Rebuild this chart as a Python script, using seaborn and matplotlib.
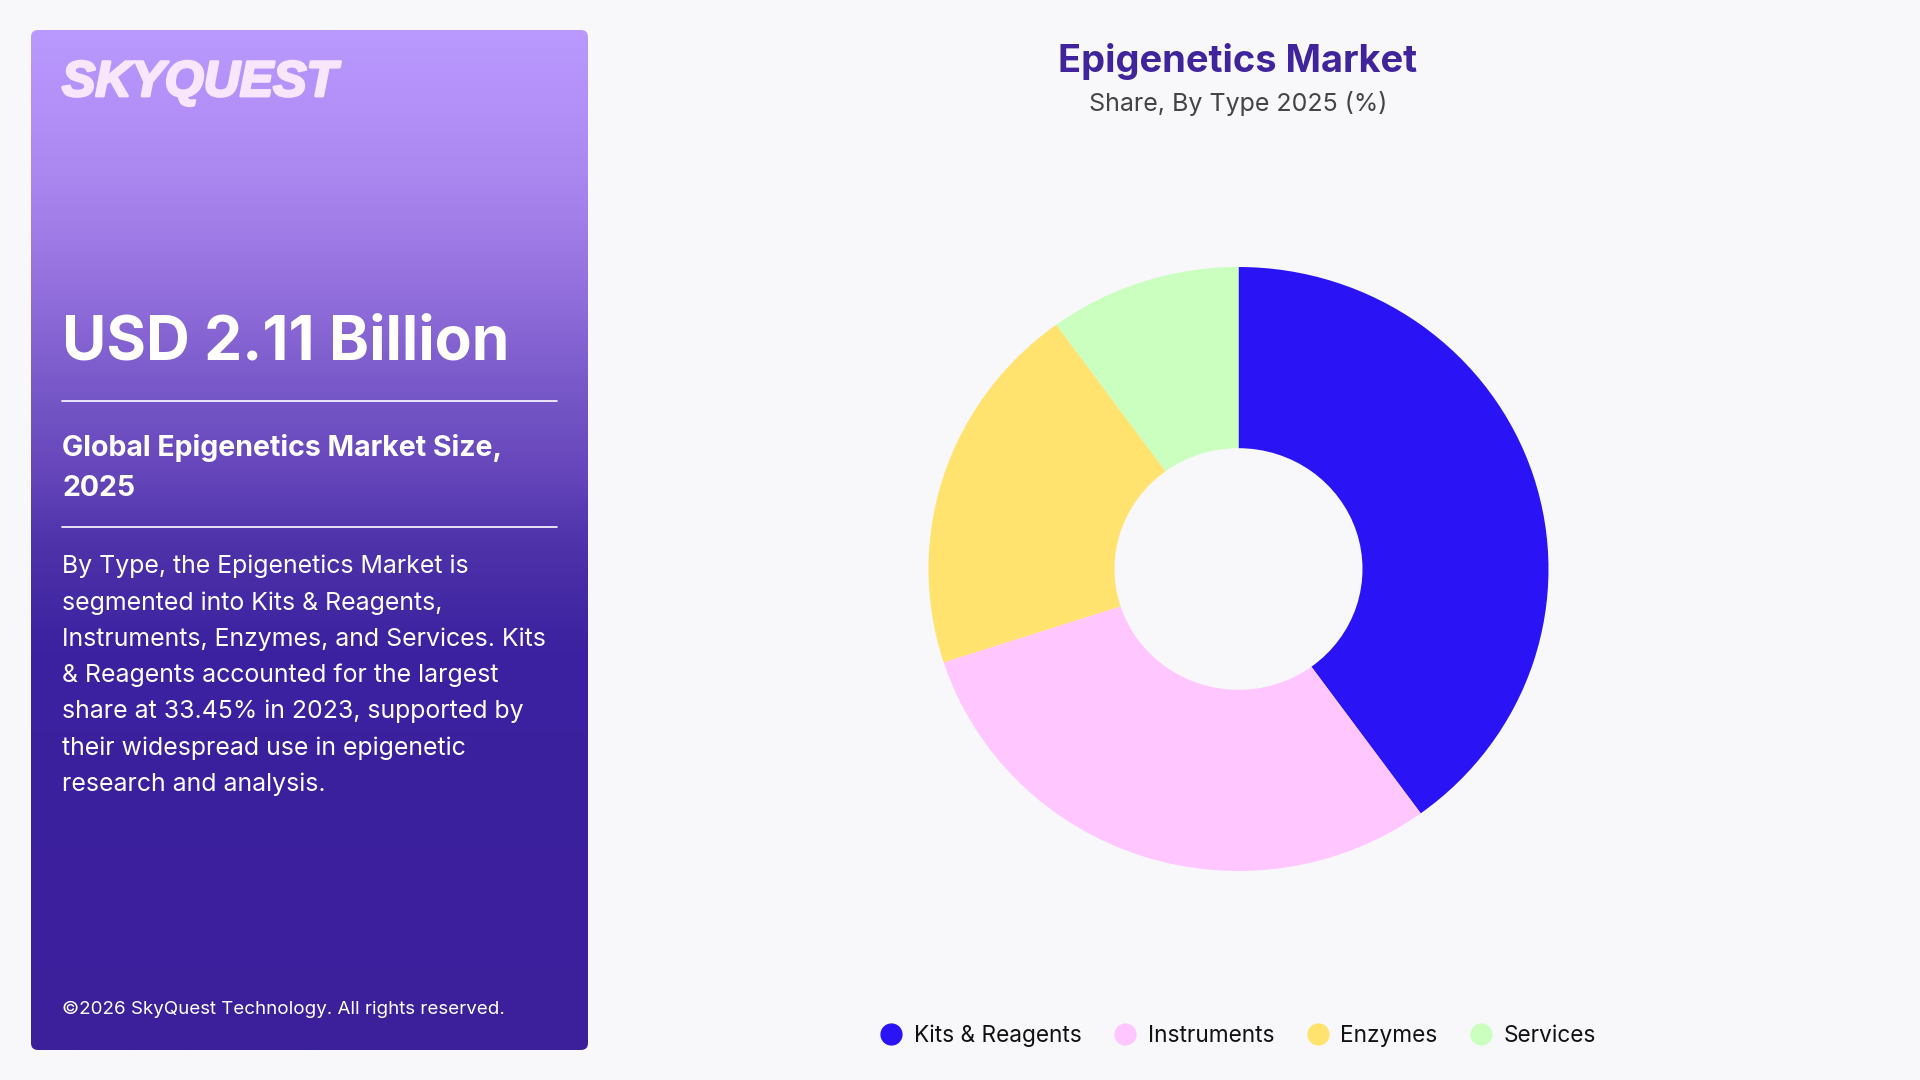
"""Epigenetics market share donut with the purple side panel"""

import matplotlib.pyplot as plt
import matplotlib.patheffects as pe
import numpy as np
import seaborn as sns
from matplotlib.colors import LinearSegmentedColormap
from matplotlib.lines import Line2D
from matplotlib.patches import FancyBboxPatch

# Data
types = ['Kits & Reagents', 'Instruments', 'Enzymes', 'Services']
shares = [40, 30, 20, 10]
type_colors = ['#2A14F5', '#FFC6FF', '#FFE36E', '#CAFFBF']

title = 'Epigenetics Market'
subtitle = 'Share, By Type 2025 (%)'
headline = 'USD 2.11 Billion'
size_lines = ['Global Epigenetics Market Size,', '2025']
body_lines = [
    'By Type, the Epigenetics Market is',
    'segmented into Kits & Reagents,',
    'Instruments, Enzymes, and Services. Kits',
    '& Reagents accounted for the largest',
    'share at 33.45% in 2023, supported by',
    'their widespread use in epigenetic',
    'research and analysis.',
]
copyright_text = '©2026 SkyQuest Technology. All rights reserved.'

W, H = 1920, 1080
BG = '#F8F8FB'

sns.set_theme(style='white')
plt.rcParams['font.family'] = ['Inter', 'DejaVu Sans']

fig = plt.figure(figsize=(W / 100, H / 100), dpi=100, facecolor=BG)

# full figure axes in pixel coordinates, for the panel and the texts
page = fig.add_axes([0, 0, 1, 1])
page.set_xlim(0, W)
page.set_ylim(H, 0)
page.axis('off')

# Side panel
grad = LinearSegmentedColormap.from_list('panel', [
    (0.0, '#BA99FF'), (0.14, '#AB88F0'), (0.25, '#9370DD'), (0.366, '#7455C5'),
    (0.437, '#6545BA'), (0.50, '#4E33AA'), (0.61, '#3C21A0'), (1.0, '#3B1F9B')])
panel = FancyBboxPatch((31, 30), 557, 1020, boxstyle='round,pad=0,rounding_size=7',
                       facecolor='none', edgecolor='none')
page.add_patch(panel)
img = page.imshow(np.linspace(0, 1, 512).reshape(-1, 1), cmap=grad, aspect='auto',
                  extent=(31, 588, 1050, 30), zorder=1)
img.set_clip_path(panel)
page.set_xlim(0, W)
page.set_ylim(H, 0)

logo = page.text(62, 83, 'SKYQUEST', fontsize=36, color='#F8E6FF', fontweight='bold', style='italic',
                 family=['Liberation Sans', 'DejaVu Sans'], va='center', zorder=3)
logo.set_path_effects([pe.withStroke(linewidth=2, foreground='#F8E6FF')])
page.text(62, 343, headline, fontsize=43.6, color='white', fontweight='bold', va='center', zorder=3)
page.plot([62, 557], [401, 401], color='white', lw=1.2, zorder=3)
for i, line in enumerate(size_lines):
    page.text(62, 448 + i * 40, line, fontsize=20.5, color='white', fontweight='bold',
              va='center', zorder=3)
page.plot([62, 557], [527, 527], color='white', lw=1.2, zorder=3)
for i, line in enumerate(body_lines):
    page.text(62, 566.5 + i * 36.3, line, fontsize=17.9, color='white', va='center', zorder=3)
page.text(62, 1009, copyright_text, fontsize=13.5, color='white', va='center', zorder=3)

# Titles
page.text(1238, 61, title, fontsize=27.4, color='#3F249B', fontweight='bold', ha='center', va='center')
page.text(1238, 104, subtitle, fontsize=18, color='#444444', ha='center', va='center')

# Donut
ax = fig.add_axes([928.5 / W, (H - 569 - 302) / H, 620 / W, 604 / H])
ax.pie(shares, colors=sns.color_palette(type_colors), startangle=90, counterclock=False,
       radius=1, wedgeprops={'width': 0.6, 'linewidth': 0})
ax.set_aspect('auto')
ax.set_xlim(-1, 1)
ax.set_ylim(-1, 1)

# Legend
handles = [Line2D([], [], marker='o', linestyle='none', markersize=15, color=c) for c in type_colors]
page.legend(handles, types, loc='center', bbox_to_anchor=(1238, 1036),
            bbox_transform=page.transData, ncol=4, frameon=False, fontsize=16.3,
            handlelength=1.0, handletextpad=0.5, columnspacing=1.42, labelcolor='#111111')

fig.savefig('out.png', dpi=100, facecolor=BG)
